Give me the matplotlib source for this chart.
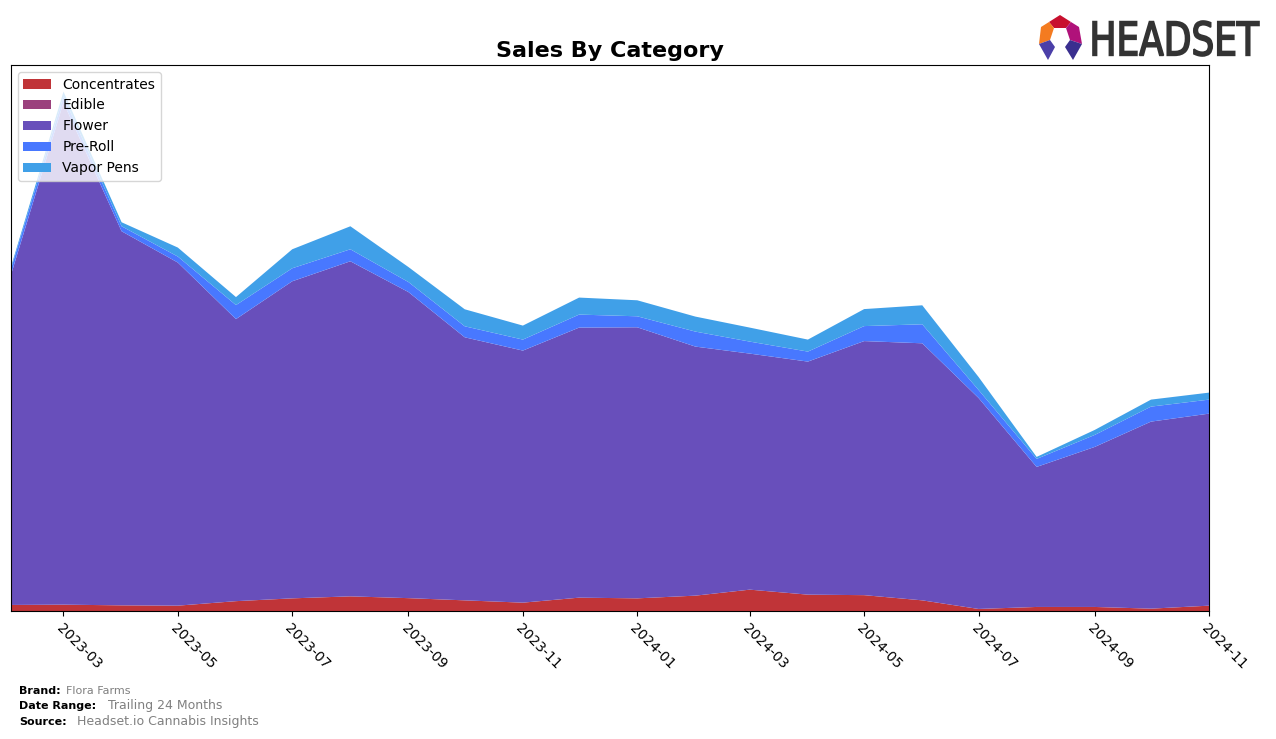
import numpy as np
import pandas as pd
import matplotlib
matplotlib.use("Agg")
import matplotlib.pyplot as plt
import matplotlib.dates as mdates
from matplotlib.patches import Polygon, PathPatch
from matplotlib.textpath import TextPath
from matplotlib.transforms import Affine2D

# monthly sales by category (arbitrary units)
months = pd.date_range("2023-02-01", "2024-11-01", freq="MS")
categories = ["Concentrates", "Edible", "Flower", "Pre-Roll", "Vapor Pens"]
concentrates = [6.2, 6.5, 5.8, 5.5, 10, 12.8, 14.8, 13, 10.8, 8.5, 13.5,
                12.8, 15.5, 21.5, 16.5, 16, 10.8, 2.2, 4.2, 4.2, 2.5, 5.5]
edible = [0] * 22
flower = [330, 502, 374, 343, 282, 317, 335, 306, 263, 252, 270,
          271, 249, 236, 233, 254, 257, 211, 140, 160, 187, 192]
preroll = [6, 6, 5, 6, 14, 13, 12, 10, 11, 11, 13,
           11, 15, 12, 10, 15, 19, 8, 8, 12, 15, 14]
vapor = [2, 5, 4, 9, 8, 19, 23, 15, 17, 14, 17,
         16, 15, 14, 12, 17, 19, 13, 2, 5, 7, 7]
colors = ["#C03438", "#9B417D", "#684FBB", "#4878FF", "#40A0E8"]

fig = plt.figure(figsize=(12.76, 7.39), dpi=100)
ax = fig.add_axes([0.0086, 0.173, 0.939, 0.739])
ax.stackplot(months, concentrates, edible, flower, preroll, vapor,
             labels=categories, colors=colors, linewidth=0)
ax.set_xlim(months[0], months[-1])
ax.set_ylim(0, 546)
ax.set_yticks([])
ax.xaxis.set_major_locator(mdates.MonthLocator(bymonth=[1, 3, 5, 7, 9, 11]))
ax.xaxis.set_major_formatter(mdates.DateFormatter("%Y-%m"))
plt.setp(ax.get_xticklabels(), rotation=-45, ha="left", rotation_mode="anchor", fontsize=10)
ax.set_title("Sales By Category", fontsize=16, fontweight="bold", pad=6)
ax.legend(loc="upper left", fontsize=10, framealpha=0.8)

# footer
fig.text(0.015, 0.061, "Brand:", fontsize=8, fontweight="bold")
fig.text(0.052, 0.061, "Flora Farms", fontsize=8, color="gray")
fig.text(0.015, 0.040, "Date Range:", fontsize=8, fontweight="bold")
fig.text(0.085, 0.040, "Trailing 24 Months", fontsize=9, color="gray")
fig.text(0.015, 0.019, "Source:", fontsize=8, fontweight="bold")
fig.text(0.060, 0.019, "Headset.io Cannabis Insights", fontsize=9, color="gray")

# logo
W, H = 1276, 739
def px(x, y):
    return (x / W, 1 - y / H)
segs = [
    ([(1049, 22), (1060, 15), (1071, 22), (1066, 28), (1054, 28)], "#C8102E"),
    ([(1049, 22), (1054, 28), (1050, 40), (1039, 44), (1041, 27)], "#F47B20"),
    ([(1071, 22), (1079, 27), (1082, 44), (1070, 40), (1066, 28)], "#B0127A"),
    ([(1039, 44), (1050, 40), (1055, 47), (1048, 60)], "#4B3FA8"),
    ([(1082, 44), (1070, 40), (1065, 47), (1073, 60)], "#3A2F8F"),
]
for pts, c in segs:
    fig.patches.append(Polygon([px(*p) for p in pts], closed=True, transform=fig.transFigure,
                               facecolor=c, edgecolor="none"))

# condensed "HEADSET" word mark squeezed into its box
tp = TextPath((0, 0), "HEADSET", size=10, prop={"family": "DejaVu Sans"})
bb = tp.get_extents()
x0, x1, ytop, ybot = 1093, 1259, 21, 56
sx = (x1 - x0) / W / bb.width
sy = (ybot - ytop) / H / bb.height
tr = Affine2D().translate(-bb.x0, -bb.y0).scale(sx, sy).translate(x0 / W, 1 - ybot / H)
fig.patches.append(PathPatch(tr.transform_path(tp), transform=fig.transFigure,
                             facecolor="#333333", edgecolor="#333333", linewidth=1.2))

fig.savefig("out.png", dpi=100)
